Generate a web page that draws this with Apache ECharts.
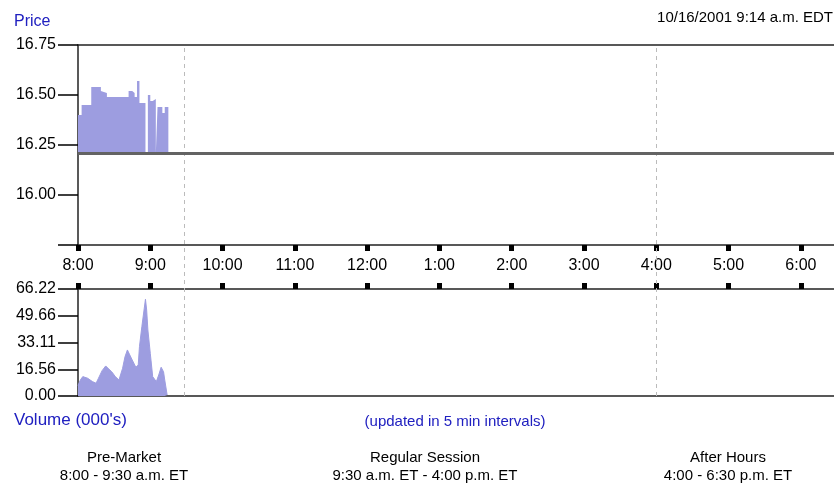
<!DOCTYPE html>
<html>
<head>
<meta charset="utf-8">
<script src="https://cdn.jsdelivr.net/npm/echarts@6/dist/echarts.min.js"></script>
<style>
html,body{margin:0;padding:0;background:#fff;}
#chart{width:834px;height:485px;}
</style>
</head>
<body>
<div id="chart"></div>
<script>
// minutes after 8:00 a.m.
var timeTickLabels = ['8:00','9:00','10:00','11:00','12:00','1:00','2:00','3:00','4:00','5:00','6:00'];
var priceTickLabels = ['', '16.00', '16.25', '16.50', '16.75'];
var volumeTickLabels = ['0.00', '16.56', '33.11', '49.66', '66.22'];

var priceTimes  = [0, 3, 11, 19, 20, 24, 42, 45, 47, 49, 51, 56, 58, 60, 62, 64.6, 66, 70, 72, 75];
var priceValues = [16.40, 16.45, 16.54, 16.52, 16.51, 16.49, 16.52, 16.51, 16.49, 16.57, 16.46, 16.21, 16.50, 16.47, 16.48, 16.21, 16.44, 16.41, 16.44, 16.44];
var priorClose = 16.21;

var volumeTimes  = [0, 2, 4, 8, 12, 15, 17, 20, 23, 25, 28, 31, 34, 37, 39, 41, 43, 45, 48, 50, 51, 53, 55, 56, 57, 58, 60, 62, 65, 67, 69, 71, 72, 74];
var volumeValues = [6.5, 10, 12, 11, 8.9, 7.9, 11, 15.7, 18.6, 17.1, 15, 12, 9.9, 17.1, 24.3, 28.5, 25.4, 22.3, 17.8, 19.2, 30.5, 42.9, 54.3, 59.9, 53.2, 40.9, 26.4, 12, 8.9, 13, 17.8, 15, 9.9, 0.6];

var sessionBounds = [88, 480];

var FONT = "'Liberation Sans', Arial, sans-serif";
var BLUE = '#2020c0';
var FILL = '#9d9de0';
var LINE = '#222';

function pairs(xs, ys) { return xs.map(function (x, i) { return [x, ys[i]]; }); }

var chart = echarts.init(document.getElementById('chart'));
function xAx(extra) {
  return Object.assign({
    type: 'value', min: 0, max: 630, interval: 60,
    splitLine: {show: false},
    axisLine: {show: true, onZero: false, lineStyle: {color: LINE, width: 1.5}},
    axisTick: {show: false},
    axisLabel: {show: false}
  }, extra);
}
var sqTick = {show: true, inside: false, length: 6, lineStyle: {color: '#000', width: 5}};
function yAx(extra, labels) {
  return Object.assign({
    type: 'value',
    splitLine: {show: false},
    axisLine: {show: true, lineStyle: {color: LINE, width: 1.5}},
    axisTick: {show: true, length: 20, lineStyle: {color: '#000', width: 1.5}},
    axisLabel: {margin: 22, color: '#000', fontSize: 16, fontFamily: FONT,
      formatter: function (v, i) { return labels[i]; }}
  }, extra);
}
function grid(top, height) {
  return {left: 78, top: top, width: 759, height: height, containLabel: false, outerBoundsMode: 'none'};
}
chart.setOption({
  animation: false,
  backgroundColor: '#ffffff',
  grid: [grid(45, 200), grid(289, 107), grid(45, 351)],
  xAxis: [
    xAx({gridIndex: 0, position: 'bottom', axisTick: sqTick,
      axisLabel: {show: true, margin: 13, color: '#000', fontSize: 16, fontFamily: FONT,
        formatter: function (v) { return v % 60 === 0 ? timeTickLabels[v / 60] : ''; }}}),
    xAx({gridIndex: 0, position: 'top'}),
    xAx({gridIndex: 1, position: 'top', axisTick: sqTick}),
    xAx({gridIndex: 1, position: 'bottom'}),
    xAx({gridIndex: 2, show: false})
  ],
  yAxis: [
    yAx({gridIndex: 0, min: 15.75, max: 16.75, interval: 0.25}, priceTickLabels),
    yAx({gridIndex: 1, min: 0, max: 66.22, interval: 16.555}, volumeTickLabels),
    {type: 'value', gridIndex: 2, min: 0, max: 1, show: false}
  ],
  series: [
    {type: 'line', xAxisIndex: 4, yAxisIndex: 2, data: [[0, 0]], symbol: 'none', silent: true,
      lineStyle: {opacity: 0}, z: 1,
      markLine: {silent: true, symbol: 'none', label: {show: false},
        lineStyle: {color: '#bbbbbb', type: [4, 4], width: 1},
        data: sessionBounds.map(function (b) { return {xAxis: b}; })}},
    {type: 'line', xAxisIndex: 0, yAxisIndex: 0, step: 'end', symbol: 'none', z: 3,
      data: pairs(priceTimes, priceValues),
      lineStyle: {opacity: 0},
      areaStyle: {color: FILL, opacity: 1, origin: priorClose},
      markLine: {silent: true, symbol: 'none', label: {show: false},
        lineStyle: {color: '#636363', type: 'solid', width: 3},
        data: [{yAxis: priorClose}]}},
    {type: 'line', xAxisIndex: 2, yAxisIndex: 1, symbol: 'none', z: 3,
      data: pairs(volumeTimes, volumeValues),
      lineStyle: {color: FILL, width: 1},
      areaStyle: {color: FILL, opacity: 1, origin: 'start'}}
  ],
  graphic: [
    {type: 'text', x: 14, y: 22, style: {text: 'Price', fill: BLUE, font: '16px ' + FONT, textAlign: 'left', textVerticalAlign: 'middle'}},
    {type: 'text', x: 833, y: 18, style: {text: '10/16/2001 9:14 a.m. EDT', fill: '#000', font: '15px ' + FONT, textAlign: 'right', textVerticalAlign: 'middle'}},
    {type: 'text', x: 14, y: 420, style: {text: "Volume (000's)", fill: BLUE, font: '17px ' + FONT, textAlign: 'left', textVerticalAlign: 'middle'}},
    {type: 'text', x: 455, y: 422, style: {text: '(updated in 5 min intervals)', fill: BLUE, font: '15px ' + FONT, textAlign: 'center', textVerticalAlign: 'middle'}},
    {type: 'text', x: 124, y: 458, style: {text: 'Pre-Market', fill: '#000', font: '15px ' + FONT, textAlign: 'center', textVerticalAlign: 'middle'}},
    {type: 'text', x: 124, y: 476, style: {text: '8:00 - 9:30 a.m. ET', fill: '#000', font: '15px ' + FONT, textAlign: 'center', textVerticalAlign: 'middle'}},
    {type: 'text', x: 425, y: 458, style: {text: 'Regular Session', fill: '#000', font: '15px ' + FONT, textAlign: 'center', textVerticalAlign: 'middle'}},
    {type: 'text', x: 425, y: 476, style: {text: '9:30 a.m. ET - 4:00 p.m. ET', fill: '#000', font: '15px ' + FONT, textAlign: 'center', textVerticalAlign: 'middle'}},
    {type: 'text', x: 728, y: 458, style: {text: 'After Hours', fill: '#000', font: '15px ' + FONT, textAlign: 'center', textVerticalAlign: 'middle'}},
    {type: 'text', x: 728, y: 476, style: {text: '4:00 - 6:30 p.m. ET', fill: '#000', font: '15px ' + FONT, textAlign: 'center', textVerticalAlign: 'middle'}}
  ]
});
</script>
</body>
</html>
